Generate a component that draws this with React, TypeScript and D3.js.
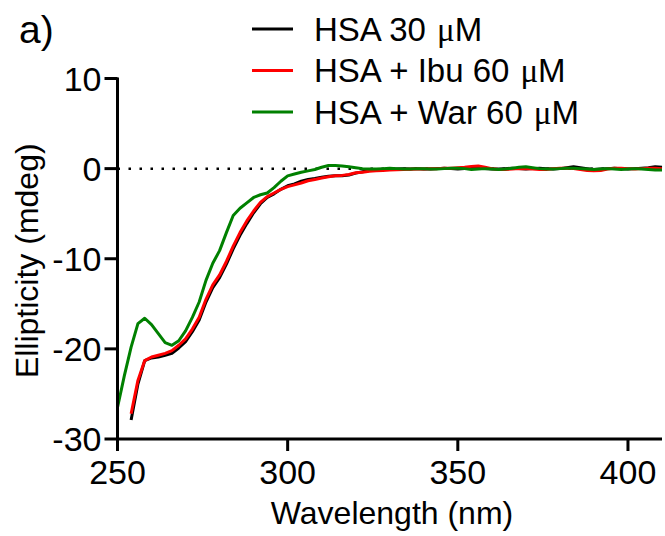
import React from 'react';
import * as d3 from 'd3';

const wavelengths = [
  250, 252, 254, 256, 258, 260, 262, 264, 266, 268, 270, 272, 274, 276, 278, 280,
  282, 284, 286, 288, 290, 292, 294, 296, 298, 300, 302, 304, 306, 308, 310, 312,
  314, 316, 318, 320, 322, 324, 326, 328, 330, 332, 334, 336, 338, 340, 342, 344,
  346, 348, 350, 352, 354, 356, 358, 360, 362, 364, 366, 368, 370, 372, 374, 376,
  378, 380, 382, 384, 386, 388, 390, 392, 394, 396, 398, 400, 402, 404, 406, 408, 410,
];

const hsa = [
  null, null, -27.9, -23.9, -21.3, -21.0, -20.9, -20.7, -20.5, -19.9, -19.2, -18.1, -16.8, -14.8, -13.2, -12.1,
  -10.6, -8.9, -7.4, -6.1, -4.9, -3.9, -3.2, -2.8, -2.3, -1.9, -1.7, -1.4, -1.2, -1.1, -0.95, -0.85,
  -0.8, -0.78, -0.7, -0.5, -0.35, -0.2, -0.15, -0.1, -0.1, -0.05, 0.0, -0.05, 0.0, -0.05, -0.05, 0.0,
  0.05, 0.0, -0.05, 0.0, 0.05, 0.05, 0.0, -0.05, -0.05, 0.0, 0.05, 0.0, -0.05, 0.0, 0.05, 0.0,
  -0.05, 0.0, 0.1, 0.2, 0.1, 0.0, -0.1, -0.05, 0.0, 0.05, 0.0, -0.05, 0.0, 0.05, 0.1, 0.2, 0.15,
];

const hsaIbu = [
  null, null, -27.2, -23.5, -21.3, -20.9, -20.7, -20.5, -20.2, -19.6, -18.9, -17.8, -16.5, -14.5, -12.9, -11.8,
  -10.3, -8.6, -7.1, -5.8, -4.7, -3.75, -3.1, -2.7, -2.3, -2.0, -1.8, -1.6, -1.35, -1.2, -1.05, -0.9,
  -0.8, -0.75, -0.65, -0.45, -0.4, -0.3, -0.25, -0.2, -0.15, -0.12, -0.1, -0.08, -0.05, -0.05, 0.0, 0.0,
  0.05, 0.05, 0.1, 0.15, 0.25, 0.3, 0.15, 0.0, -0.1, -0.1, -0.05, 0.0, 0.0, -0.05, -0.1, -0.1,
  0.0, 0.05, 0.05, 0.0, -0.1, -0.2, -0.25, -0.2, -0.05, 0.05, 0.05, 0.0, -0.05, 0.0, 0.05, 0.05, 0.0,
];

const hsaWar = [
  -26.5, -23.0, -19.8, -17.2, -16.6, -17.3, -18.3, -19.3, -19.6, -19.1, -18.0, -16.5, -14.8, -12.4, -10.5, -9.1,
  -7.1, -5.2, -4.4, -3.8, -3.2, -2.9, -2.7, -2.1, -1.4, -0.8, -0.6, -0.4, -0.25, -0.1, 0.15, 0.35,
  0.35, 0.3, 0.2, 0.1, 0.0, -0.05, -0.05, 0.0, 0.05, 0.0, -0.05, -0.05, 0.0, 0.0, -0.05, -0.05,
  0.0, 0.05, 0.05, 0.0, -0.1, -0.05, 0.0, -0.05, -0.1, -0.05, 0.05, 0.15, 0.2, 0.1, 0.0, -0.05,
  -0.05, 0.0, 0.05, 0.05, 0.0, -0.05, -0.1, -0.05, 0.0, -0.05, -0.1, -0.05, 0.0, -0.05, -0.1, -0.15, -0.15,
];

const seriesNames = ['HSA 30', 'HSA + Ibu 60', 'HSA + War 60'];
const seriesUnit = '\u03BCM';
const seriesColors = ['#000000', '#ff0000', '#008000'];
const seriesValues = [hsa, hsaIbu, hsaWar];

const xTicks = [250, 300, 350, 400];
const yTicks = [10, 0, -10, -20, -30];

const FONT = 'Arial, "Liberation Sans", Helvetica, sans-serif';
const SERIF = '"Liberation Serif", "DejaVu Serif", serif';

export default function App() {
  const x = d3.scaleLinear().domain([250, 410]).range([117.5, 662]);
  const y = d3.scaleLinear().domain([-30, 10]).range([439, 78.5]);

  const line = d3
    .line<[number, number | null]>()
    .defined((d) => d[1] !== null)
    .x((d) => x(d[0]))
    .y((d) => y(d[1] as number));

  return (
    <svg
      width={665}
      height={536}
      style={{ position: 'absolute', left: 0, top: 0, background: '#fff' }}
      fontFamily={FONT}
    >
      <rect width={665} height={536} fill="#fff" />
      {/* panel label */}
      <text x={19} y={43} fontSize={39} fill="#000">a)</text>

      {/* zero dotted line */}
      <line
        x1={x(250)}
        x2={x(410)}
        y1={y(0)}
        y2={y(0)}
        stroke="#000"
        strokeWidth={2.5}
        strokeDasharray="2.5,8.5"
      />

      {/* series */}
      {seriesValues.map((vals, i) => (
        <path
          key={i}
          d={line(wavelengths.map((w, j) => [w, vals[j]] as [number, number | null])) || ''}
          fill="none"
          stroke={seriesColors[i]}
          strokeWidth={3}
          strokeLinejoin="round"
        />
      ))}

      {/* y axis */}
      <line x1={x(250)} x2={x(250)} y1={y(10) - 1} y2={y(-30) + 1.5} stroke="#000" strokeWidth={3} />
      {yTicks.map((t) => (
        <g key={t}>
          <line x1={x(250) - 13} x2={x(250)} y1={y(t)} y2={y(t)} stroke="#000" strokeWidth={3} />
          <text
            x={x(250) - 16}
            y={y(t)}
            dy="0.36em"
            textAnchor="end"
            fontSize={34}
            fill="#000"
          >
            {t}
          </text>
        </g>
      ))}

      {/* x axis */}
      <line x1={x(250) - 1.5} x2={x(410)} y1={y(-30)} y2={y(-30)} stroke="#000" strokeWidth={3} />
      {xTicks.map((t) => (
        <g key={t}>
          <line x1={x(t)} x2={x(t)} y1={y(-30)} y2={y(-30) + 12} stroke="#000" strokeWidth={3} />
          <text x={x(t)} y={484} textAnchor="middle" fontSize={34} fill="#000">
            {t}
          </text>
        </g>
      ))}

      {/* axis titles */}
      <text x={392} y={524} textAnchor="middle" fontSize={32} fill="#000">
        Wavelength (nm)
      </text>
      <text
        transform={`translate(38, ${(y(10) + y(-30)) / 2 + 2}) rotate(-90)`}
        textAnchor="middle"
        fontSize={32}
        fill="#000"
      >
        Ellipticity (mdeg)
      </text>

      {/* legend */}
      {seriesNames.map((name, i) => {
        const cy = 29 + i * 41.5;
        return (
          <g key={name}>
            <line x1={252} x2={293} y1={cy} y2={cy} stroke={seriesColors[i]} strokeWidth={3} />
            <text x={314} y={cy} dy="0.36em" fontSize={33} fill="#000">
              {name}
              <tspan dx={11} fontFamily={SERIF}>{seriesUnit.charAt(0)}</tspan>
              <tspan>{seriesUnit.slice(1)}</tspan>
            </text>
          </g>
        );
      })}
    </svg>
  );
}
